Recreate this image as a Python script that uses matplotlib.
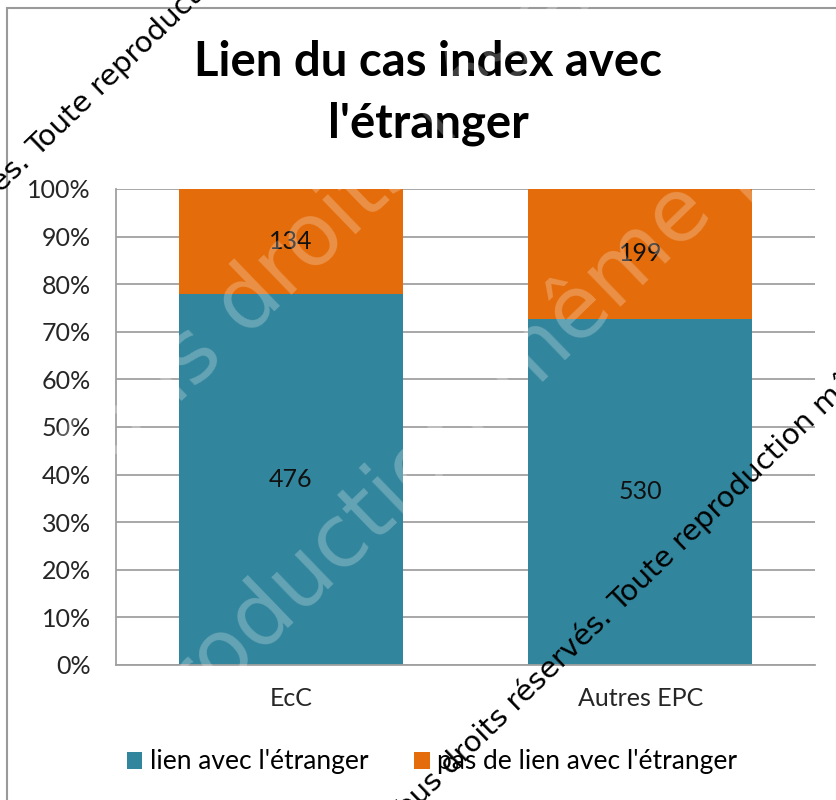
import numpy as np
import matplotlib.pyplot as plt
from matplotlib.patches import Rectangle

# donnees
categories = ['EcC', 'Autres EPC']
lien = [476, 530]
pas_lien = [134, 199]
series_names = ["lien avec l'étranger", "pas de lien avec l'étranger"]
yticks = [0, 10, 20, 30, 40, 50, 60, 70, 80, 90, 100]
title = "Lien du cas index avec\nl'étranger"
watermark_a = "Tous droits réservés. "
watermark_b = "Toute reproduction même partielle interdite"

teal = '#31859C'
orange = '#E46C0A'

plt.rcParams['font.family'] = ['Lato', 'DejaVu Sans']

W, H = 836, 800
fig = plt.figure(figsize=(W / 100, H / 100), dpi=100)
ax = fig.add_axes([116 / W, 1 - 665 / H, (815 - 116) / W, (665 - 189) / H])

totals = np.array(lien) + np.array(pas_lien)
p1 = np.array(lien) / totals * 100
p2 = np.array(pas_lien) / totals * 100
x = np.arange(len(categories))

b1 = ax.bar(x, p1, 0.64, color=teal, label=series_names[0], zorder=2)
b2 = ax.bar(x, p2, 0.64, bottom=p1, color=orange, label=series_names[1], zorder=2)
ax.bar_label(b1, labels=[str(v) for v in lien], label_type='center', fontsize=18, color='#111111')
ax.bar_label(b2, labels=[str(v) for v in pas_lien], label_type='center', fontsize=18, color='#111111')

ax.set_xlim(-0.5, 1.5)
ax.set_ylim(0, 100)
ax.set_xticks(x)
ax.set_xticklabels(categories)
ax.set_yticks(yticks)
ax.set_yticklabels([f'{v}%' for v in yticks])
ax.yaxis.grid(True, color='#A0A0A0', lw=1.3, zorder=0)
ax.set_axisbelow(True)
for s in ['top', 'right']:
    ax.spines[s].set_visible(False)
for s in ['left', 'bottom']:
    ax.spines[s].set_color('#A0A0A0')
    ax.spines[s].set_linewidth(1.3)
ax.tick_params(axis='y', length=0, pad=18, labelsize=18, labelcolor='#262626')
ax.tick_params(axis='x', length=0, pad=16, labelsize=18, labelcolor='#262626')

fig.text(428 / W, 1 - 93 / H, title, ha='center', va='center', fontsize=34,
         fontweight='bold', linespacing=1.5)

fig.legend(loc='center', bbox_to_anchor=(432 / W, 1 - 762 / H), ncol=2, frameon=False,
           fontsize=19, handlelength=0.6, handleheight=0.6, handletextpad=0.3,
           columnspacing=1.7)

# cadre du graphique
fig.patches.append(Rectangle((7 / W, -0.1), 1.2, 1 - 8 / H + 0.1, transform=fig.transFigure,
                             fill=False, ec='#9a9a9a', lw=1.5))

# filigrane blanc
fig.text(88 / W, 1 - 492 / H, "Tous droits réservés", color='white', alpha=0.25,
         fontsize=63, family='DejaVu Sans', rotation=44, rotation_mode='anchor',
         ha='left', va='baseline')
fig.text(93 / W, 1 - 816 / H, "reproduction même partielle interdite", color='white', alpha=0.25,
         fontsize=63, family='DejaVu Sans', rotation=44, rotation_mode='anchor',
         ha='left', va='baseline')

# filigrane noir
for px, py in [(38, 158), (620, 613)]:
    fig.text(px / W, 1 - py / H, watermark_a, color='black', fontsize=21, family='DejaVu Sans',
             rotation=44, rotation_mode='anchor', ha='right', va='baseline')
    fig.text(px / W, 1 - py / H, watermark_b, color='black', fontsize=21, family='DejaVu Sans',
             rotation=44, rotation_mode='anchor', ha='left', va='baseline')

fig.savefig('out.png', dpi=100)
